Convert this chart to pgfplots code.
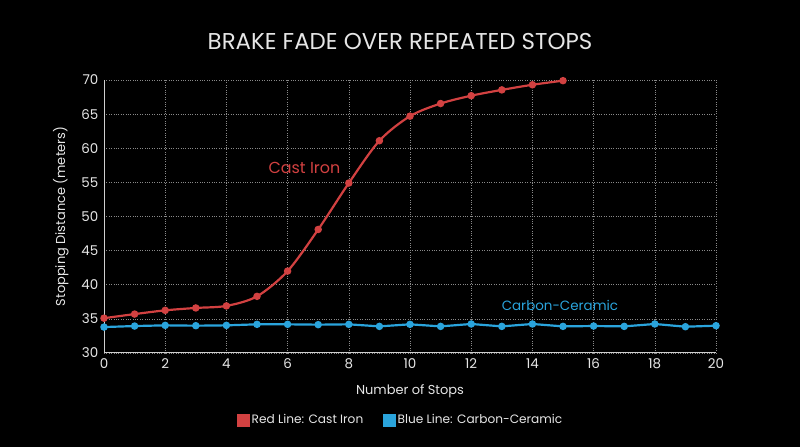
\documentclass[border=0pt]{standalone}
\usepackage{pgfplots}
\pgfplotsset{compat=1.18}
\usepackage{fontspec}
\setmainfont{Poppins}
\definecolor{castred}{HTML}{D24141}
\definecolor{ccblue}{HTML}{2AA4DC}
\definecolor{gridgray}{HTML}{8A8A8A}
\definecolor{axgray}{HTML}{CFCFCF}
\definecolor{txt}{HTML}{E6E6E6}
\begin{document}
\begin{tikzpicture}[x=1bp,y=1bp]
  \fill[black] (0,0) rectangle (800,447);
  \node[txt, font=\fontsize{23}{26}\selectfont] at (400,405) {BRAKE FADE OVER REPEATED STOPS};
  \begin{axis}[
      at={(104bp,94bp)}, anchor=south west,
      scale only axis, width=612bp, height=273bp,
      xmin=0, xmax=20, ymin=30, ymax=70,
      xtick={0,2,...,20}, ytick={30,35,...,70},
      axis x line=bottom, axis y line=left,
      axis line style={axgray, line width=1pt, -},
      tick style={draw=none},
      grid=major,
      major grid style={gridgray, dotted, line width=0.6pt},
      /pgf/number format/assume math mode=true,
      ticklabel style={txt, font=\fontsize{13.5}{15}\selectfont},
      xlabel={Number of Stops},
      ylabel={Stopping Distance (meters)},
      label style={txt, font=\fontsize{13}{15}\selectfont},
      xlabel style={yshift=-9bp},
      ylabel style={yshift=6bp},
      legend columns=2,
      legend style={at={(0.485,-0.245)}, anchor=center, fill=none, draw=none,
        text=txt, font=\fontsize{12.2}{14}\selectfont,
        /tikz/every even column/.append style={column sep=18bp}},
    ]
    \addlegendimage{legend image code/.code={\fill[castred] (0bp,-6bp) rectangle (12bp,6bp);}}
    \addlegendentry{Red Line: Cast Iron}
    \addlegendimage{legend image code/.code={\fill[ccblue] (0bp,-6bp) rectangle (12bp,6bp);}}
    \addlegendentry{Blue Line: Carbon-Ceramic}

    \addplot[ccblue, line width=2.2pt, mark=*, mark size=2.6pt, forget plot] coordinates {
      (0,33.8) (1,33.95) (2,34.05) (3,34.0) (4,34.05) (5,34.2) (6,34.2) (7,34.15)
      (8,34.2) (9,33.9) (10,34.2) (11,33.9) (12,34.25) (13,33.9) (14,34.25)
      (15,33.9) (16,33.95) (17,33.9) (18,34.25) (19,33.85) (20,34.0)
    };
    \addplot[castred, line width=2.2pt, smooth, mark=*, mark size=2.6pt, forget plot] coordinates {
      (0,35.1) (1,35.7) (2,36.25) (3,36.6) (4,36.9) (5,38.3) (6,42.0) (7,48.1)
      (8,54.9) (9,61.1) (10,64.7) (11,66.55) (12,67.7) (13,68.55) (14,69.3) (15,69.9)
    };
    \node[castred, font=\fontsize{16}{18}\selectfont] at (axis cs:6.55,57.1) {Cast Iron};
    \node[ccblue, font=\fontsize{13.5}{16}\selectfont] at (axis cs:14.9,37.0) {Carbon-Ceramic};
  \end{axis}
\end{tikzpicture}
\end{document}
